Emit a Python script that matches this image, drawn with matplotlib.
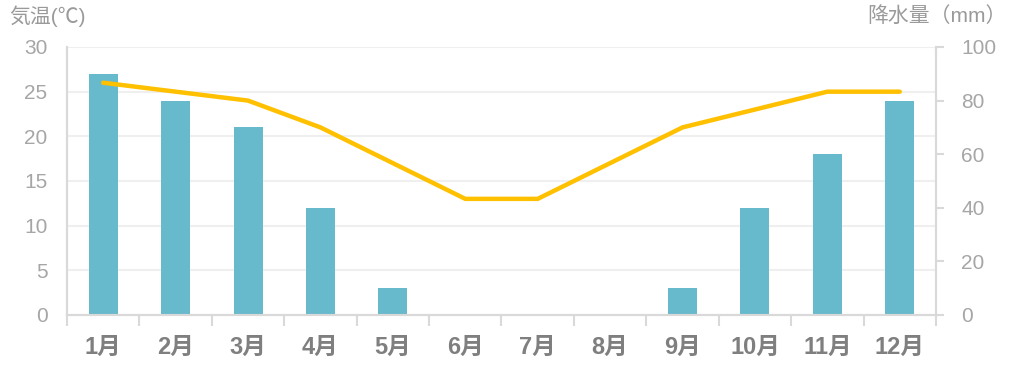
import numpy as np
import matplotlib.pyplot as plt
from matplotlib.ticker import FixedLocator, NullFormatter
import matplotlib.transforms as mtransforms

plt.rcParams['font.family'] = ['Liberation Sans', 'Noto Sans CJK JP', 'DejaVu Sans']

months = ["1月", "2月", "3月", "4月", "5月", "6月", "7月", "8月", "9月", "10月", "11月", "12月"]
rain = [90, 80, 70, 40, 10, 0, 0, 0, 10, 40, 60, 80]          # 降水量 (mm)
temp = [26, 25, 24, 21, 17, 13, 13, 17, 21, 23, 25, 25]       # 気温 (℃)
temp_ticks = [0, 5, 10, 15, 20, 25, 30]
rain_ticks = [0, 20, 40, 60, 80, 100]

spine_c = "#d9d9d9"
tick_c = "#a6a6a6"

fig = plt.figure(figsize=(10.14, 3.70), dpi=100)
ax_p = fig.add_axes([67 / 1014, 55 / 370, 869 / 1014, 268 / 370])
ax_t = ax_p.twinx()

x = np.arange(len(months))

# precipitation bars (right axis)
ax_p.bar(x, rain, width=0.4, color="#67b9cc", zorder=2)
ax_p.set_ylim(0, 100)
ax_p.set_xlim(-0.5, 11.5)
ax_p.yaxis.tick_right()
ax_p.set_yticks(rain_ticks)
ax_p.tick_params(axis="y", which="major", length=6, width=1.5, color=spine_c,
                 labelcolor=tick_c, labelsize=15, pad=12)

# grid lines follow temperature ticks, drawn behind the bars
tr = mtransforms.blended_transform_factory(ax_p.transAxes, ax_t.transData)
for v in temp_ticks[1:]:
    ax_p.plot([0, 1], [v, v], transform=tr, color="#efefef", lw=1.5, zorder=1)

# temperature line (left axis)
ax_t.plot(x, temp, color="#ffc000", lw=3.2, solid_capstyle="round", solid_joinstyle="miter", zorder=3)
ax_t.set_ylim(0, 30)
ax_t.yaxis.tick_left()
ax_t.set_yticks(temp_ticks)
ax_t.tick_params(axis="y", length=0, labelcolor=tick_c, labelsize=15, pad=14)

# x axis
ax_p.set_xticks(x)
ax_p.set_xticklabels(months, fontsize=17, fontweight="bold", color="#7f7f7f")
ax_p.xaxis.set_minor_locator(FixedLocator(np.arange(-0.5, 12, 1)))
ax_p.xaxis.set_minor_formatter(NullFormatter())
ax_p.tick_params(axis="x", which="major", length=0, pad=15)
ax_p.tick_params(axis="x", which="minor", length=8, width=1.5, color=spine_c)

for a in (ax_p, ax_t):
    a.spines["top"].set_visible(False)
    for s in ("left", "right", "bottom"):
        a.spines[s].set_color(spine_c)
        a.spines[s].set_linewidth(1.5)

fig.text(9 / 1014, 1 - 16 / 370, "気温(℃)", fontsize=15, color="#9a9a9a", va="center", ha="left")
fig.text(1007 / 1014, 1 - 16 / 370, "降水量（mm）", fontsize=15, color="#9a9a9a", va="center", ha="right")

fig.savefig("out.png", dpi=100)
